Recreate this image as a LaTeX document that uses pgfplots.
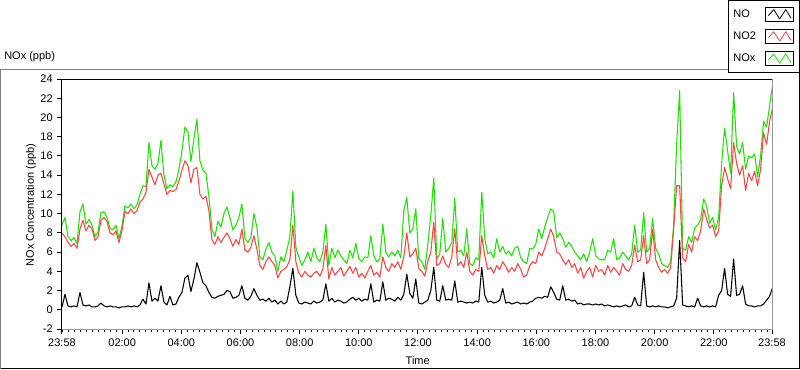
\documentclass[border=0pt]{standalone}
\usepackage{pgfplots}
\pgfplotsset{compat=1.18}
\usepackage{pgfplotstable}
\usepackage{fontspec}
\setmainfont{Liberation Sans}
\definecolor{noxgreen}{RGB}{30,226,0}
\definecolor{no2red}{RGB}{255,68,68}
\definecolor{framegray}{RGB}{150,150,150}

% sampled every ~6 minutes from 23:58 to 23:58 (x = sample index * 0.10135 h)
\pgfplotstableread{
NO NO2 NOx
0.3 8.0 8.8
1.6 7.6 9.6
0.4 7.0 7.6
0.3 6.6 7.2
0.4 6.9 7.5
0.3 6.4 6.9
1.8 8.4 10.2
0.5 9.3 11.0
0.4 8.2 8.9
0.5 8.8 9.4
0.3 8.4 8.8
0.3 7.2 7.6
0.4 7.6 8.1
0.7 9.3 10.1
0.4 9.6 10.2
0.3 9.2 9.6
0.4 8.0 8.5
0.3 7.8 8.3
0.3 8.2 8.8
0.2 7.0 7.4
0.3 8.2 8.7
0.3 10.2 10.8
0.4 10.0 10.6
0.3 10.5 11.0
0.4 10.0 10.5
0.3 10.3 10.9
0.5 11.2 12.0
1.1 11.5 12.9
0.6 12.2 12.8
2.8 14.6 17.4
0.9 13.8 15.0
1.2 13.0 14.6
0.9 14.0 15.2
2.5 14.2 17.6
0.8 13.1 14.0
0.5 12.0 12.6
1.4 12.4 13.0
0.5 12.3 12.8
0.6 12.5 13.3
1.3 13.4 14.6
1.8 14.5 16.5
3.3 15.5 19.0
3.6 15.0 18.5
1.9 13.2 15.4
3.2 14.6 17.8
4.9 14.8 19.8
3.9 12.0 15.5
2.8 11.5 14.5
2.5 11.8 14.2
1.8 10.3 11.8
1.3 7.3 8.4
1.2 6.8 7.6
1.4 7.6 9.2
1.5 7.0 8.6
1.6 7.5 10.0
2.0 8.0 10.7
1.9 7.4 9.6
1.2 6.6 8.3
1.3 7.3 8.8
1.5 6.8 9.6
2.5 8.4 11.0
1.2 6.2 7.4
1.0 6.0 7.0
1.4 6.5 7.5
2.2 7.7 10.0
1.5 6.3 8.6
1.0 4.6 5.5
1.1 4.2 5.2
0.9 5.0 6.3
1.2 5.5 7.0
0.8 5.0 6.0
1.0 4.6 5.6
0.6 3.3 4.0
0.9 4.0 5.5
0.6 4.2 5.0
0.8 4.5 6.2
2.4 5.2 7.6
4.3 8.8 12.4
1.5 5.0 6.5
0.7 3.8 5.5
0.6 3.4 4.6
0.8 4.0 5.2
0.7 3.6 6.0
0.6 3.4 5.0
0.9 3.8 6.4
0.7 4.0 5.4
0.8 3.5 5.0
1.0 4.2 6.0
2.7 6.7 8.9
0.9 3.2 4.6
1.2 4.4 6.4
0.8 3.6 5.4
1.0 4.0 6.2
0.9 4.4 5.6
0.7 3.5 5.2
0.8 4.0 4.8
1.1 4.5 6.2
1.3 3.8 5.4
1.0 4.4 6.9
1.2 3.4 5.3
0.9 3.8 5.0
1.1 3.3 5.5
1.0 4.0 5.4
2.7 4.6 7.7
0.8 3.6 5.6
1.0 3.9 5.0
0.9 3.4 5.3
2.9 5.5 8.9
1.0 4.4 6.0
1.2 4.0 5.5
1.1 4.8 6.0
0.9 4.4 5.6
1.3 5.0 6.2
1.0 4.2 5.4
1.6 5.5 10.3
3.7 8.0 11.7
1.7 5.5 8.0
1.2 5.8 8.4
3.2 6.4 10.5
0.7 4.3 5.3
0.6 4.0 5.0
0.8 3.5 4.2
1.0 5.0 6.7
2.0 6.0 9.8
4.4 9.1 13.7
1.0 4.6 5.3
0.9 4.8 5.8
2.5 5.6 9.5
1.0 4.7 6.0
1.1 4.4 6.4
1.0 5.5 7.0
3.0 8.4 11.6
0.8 4.6 6.0
0.9 5.0 6.2
0.8 4.4 5.6
0.7 6.0 8.4
0.8 4.0 4.8
0.7 3.6 4.6
0.9 4.2 5.4
0.8 4.0 5.2
4.4 7.7 12.2
1.5 5.6 7.4
0.8 4.2 5.8
0.9 4.4 6.0
0.7 3.8 5.4
0.8 4.6 7.4
1.0 4.2 6.0
2.2 5.0 6.6
0.7 4.5 5.8
0.8 3.9 6.1
0.6 4.4 5.6
0.7 4.0 6.4
0.8 4.8 6.6
0.6 4.2 5.4
0.7 3.4 5.0
0.6 3.6 4.8
0.8 4.6 6.4
0.9 5.0 6.3
1.2 4.8 6.8
1.3 6.0 8.4
1.2 5.6 7.4
1.4 6.4 8.6
1.3 7.4 9.6
2.4 8.4 10.5
1.8 7.6 10.2
1.1 6.0 7.5
1.0 5.8 8.0
2.5 5.2 7.4
1.0 4.7 6.5
1.1 5.2 7.0
0.9 4.4 6.6
1.0 4.8 6.0
0.6 3.8 5.6
0.7 4.4 5.2
0.5 3.3 5.8
0.6 4.0 5.0
0.6 4.4 6.0
0.5 3.4 7.4
0.6 4.6 5.6
0.5 4.0 5.3
0.6 4.2 5.2
0.4 3.6 5.2
0.5 4.6 6.2
0.4 3.9 6.0
0.3 4.4 7.4
0.4 4.0 5.2
0.3 3.6 5.4
0.4 4.8 6.0
0.5 4.2 5.6
0.3 4.0 5.2
0.4 4.6 5.8
1.3 6.7 8.8
0.5 5.0 6.0
0.4 5.2 6.2
3.9 7.7 10.1
0.4 4.8 6.0
0.3 5.2 6.4
0.4 8.4 9.5
0.3 5.2 6.4
0.4 4.4 5.8
0.3 3.9 4.8
0.3 4.2 4.6
0.2 3.8 4.4
0.3 4.4 5.0
0.4 8.4 8.8
1.2 12.9 17.2
7.2 12.9 22.8
0.5 5.4 6.4
0.4 5.0 6.2
0.3 6.8 7.6
0.4 6.0 7.0
0.3 7.6 8.5
1.2 7.2 8.8
0.4 8.2 9.4
0.3 10.5 11.5
0.4 9.4 10.8
0.3 8.5 9.0
0.4 8.8 9.6
0.3 7.6 8.3
1.5 8.2 9.6
2.0 12.9 15.2
4.3 14.8 18.9
1.6 13.6 16.5
1.4 12.6 14.2
5.3 17.4 22.6
1.5 15.2 17.0
1.6 14.0 16.2
2.5 15.0 17.4
0.6 12.4 14.6
0.4 14.2 16.0
0.4 13.4 15.8
0.3 14.4 16.2
0.4 12.9 13.8
0.4 14.6 16.0
0.6 18.4 19.6
1.0 17.2 19.0
1.4 19.6 21.2
2.3 21.0 23.4
}\datatab

\begin{document}
\begin{tikzpicture}
\begin{scope}[x=0.75pt,y=0.75pt]
\path (0,0) rectangle (800,369);
% outer panel frame
\draw[line width=0.75pt, gray] (0.5,0.5) -- (0.5,299.5) -- (799.5,299.5);
\draw[line width=0.75pt, black] (0.5,0.5) -- (799.5,0.5) -- (799.5,299.5);
\node[anchor=west, inner sep=0pt, font=\fontsize{8.25}{10}\selectfont] at (4,312) {NOx (ppb)};
\end{scope}

\begin{axis}[
  at={(46.5pt,30pt)}, anchor=south west,
  scale only axis, width=532.5pt, height=187.5pt,
  xmin=0, xmax=24, ymin=-2, ymax=24,
  ytick={-2,0,...,24},
  xtick={0,2.03333,4.03333,6.03333,8.03333,10.03333,12.03333,14.03333,16.03333,18.03333,20.03333,22.03333,24},
  xticklabels={23:58,02:00,04:00,06:00,08:00,10:00,12:00,14:00,16:00,18:00,20:00,22:00,23:58},
  minor xtick={0.03333,0.23333,...,23.9},
  tick align=outside,
  xtick pos=bottom, ytick pos=left,
  major tick length=3.5pt, minor tick length=2.2pt,
  tick style={black, line width=0.75pt},
  axis line style={draw=none},
  ticklabel style={font=\fontsize{8.25}{10}\selectfont},
  /pgf/number format/assume math mode=true,
  label style={font=\fontsize{8.25}{10}\selectfont},
  xlabel={Time}, ylabel={NOx Concentration (ppb)},
  xlabel style={at={(axis description cs:0.501,-0.128)}, anchor=center},
  ylabel style={at={(axis description cs:-0.0437,0.496)}, anchor=center},
  legend plot pos=right,
  reverse legend,
  legend cell align=left,
  legend style={at={(rel axis cs:1.0394,1.316)}, anchor=north east,
    draw=black, line width=0.75pt, fill=white,
    font=\fontsize{8.25}{10}\selectfont,
    inner xsep=4pt, inner ysep=5pt, row sep=6pt, column sep=7pt,
    nodes={inner sep=0pt}},
  legend image code/.code={
    \draw[black, line width=0.6pt, fill=white, solid] (0pt,-5pt) rectangle (21pt,5pt);
    \draw[#1, line width=0.6pt] (2pt,-1pt) -- (6pt,3.5pt) -- (10.5pt,-3.5pt) -- (15pt,3.5pt) -- (19pt,-3pt);
  },
  after end axis/.code={
    \draw[black, line width=0.75pt] (rel axis cs:0,0) -- (rel axis cs:0,1) -- (rel axis cs:1,1);
    \draw[framegray, line width=0.75pt] (rel axis cs:1,1) -- (rel axis cs:1,0) -- (rel axis cs:0,0);
  },
]
\addplot[noxgreen, line width=0.8pt, line join=round] table[x expr=\coordindex*0.10135, y=NOx]{\datatab};
\addlegendentry{NOx}
\addplot[no2red, line width=0.8pt, line join=round] table[x expr=\coordindex*0.10135, y=NO2]{\datatab};
\addlegendentry{NO2}
\addplot[black, line width=0.8pt, line join=round] table[x expr=\coordindex*0.10135, y=NO]{\datatab};
\addlegendentry{NO}
\end{axis}
\pgfresetboundingbox
\path (0pt,0pt) rectangle (600pt,276.75pt);
\end{tikzpicture}
\end{document}
